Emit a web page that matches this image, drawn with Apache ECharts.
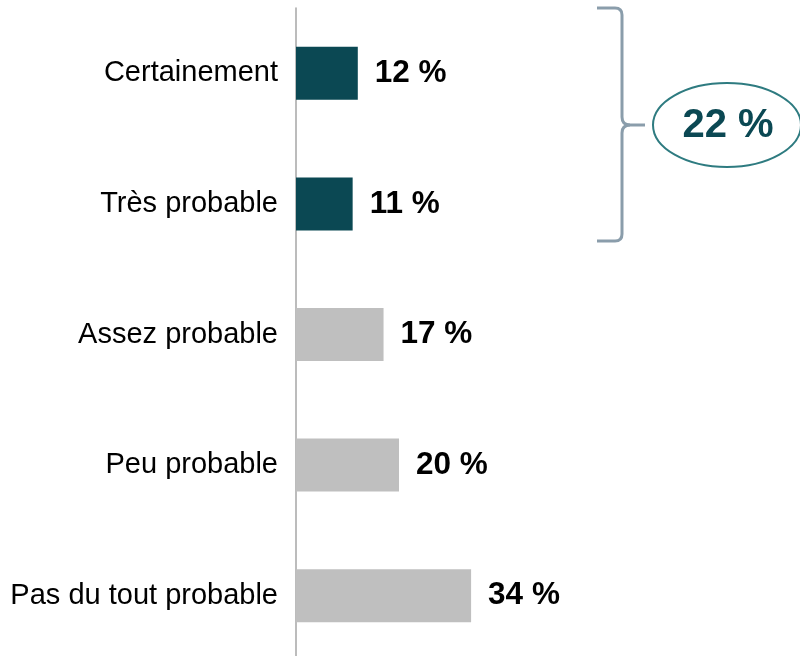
<html>
<head>
	<meta charset="utf-8">
	<script src="https://cdn.jsdelivr.net/npm/echarts@6/dist/echarts.min.js"></script>
	<style>
		body { margin: 0; background: #fff; }
		#main { width: 800px; height: 656px; }
	</style>
</head>
<body>
<div id="main"></div>
<script>
	var categories = ['Certainement', 'Très probable', 'Assez probable', 'Peu probable', 'Pas du tout probable'];
	var values = [12, 11, 17, 20, 34];
	var highlighted = [true, true, false, false, false];
	var topTwoLabel = '22 %';

	var teal = '#0b4853';
	var grey = '#bfbfbf';
	var braceColor = '#8a9dab';
	var font = 'Arial, "Liberation Sans", sans-serif';

	var barData = [];
	for (var i = 0; i < values.length; i++) {
		barData.push({
			value: values[i],
			itemStyle: { color: highlighted[i] ? teal : grey }
		});
	}

	// accolade : segments droits + coins arrondis
	var braceStyle = { stroke: braceColor, lineWidth: 3, fill: null };
	function seg(x1, y1, x2, y2) {
		return { type: 'line', shape: { x1: x1, y1: y1, x2: x2, y2: y2 }, style: braceStyle };
	}
	function corner(x1, y1, cx, cy, x2, y2) {
		return { type: 'bezierCurve', shape: { x1: x1, y1: y1, cpx1: cx, cpy1: cy, x2: x2, y2: y2 }, style: braceStyle };
	}
	var brace = [
		seg(597, 8, 615, 8),
		corner(615, 8, 622, 8, 622, 15),
		seg(622, 15, 622, 117),
		corner(622, 117, 622, 125, 630, 125),
		seg(630, 125, 645, 125),
		corner(630, 125, 622, 125, 622, 133),
		seg(622, 133, 622, 234),
		corner(622, 234, 622, 241, 615, 241),
		seg(615, 241, 597, 241)
	];

	var myChart = echarts.init(document.getElementById('main'));
	var option = {
		animation: false,
		grid: { left: 296, top: 8, width: 206, height: 653, outerBoundsMode: 'none' },
		xAxis: {
			type: 'value',
			min: 0,
			max: 40,
			show: false
		},
		yAxis: {
			type: 'category',
			inverse: true,
			data: categories,
			axisLine: { show: true, lineStyle: { color: '#a6a6a6', width: 1.5 } },
			axisTick: { show: false },
			axisLabel: { color: '#000', fontSize: 29, fontFamily: font, margin: 18, padding: [0, 0, 9, 0] }
		},
		series: [{
			type: 'bar',
			data: barData,
			barWidth: 53,
			label: {
				show: true,
				position: 'right',
				distance: 17,
				formatter: '{c} %',
				color: '#000',
				fontSize: 31.5,
				fontWeight: 'bold',
				fontFamily: font
			}
		}],
		graphic: brace.concat([
			{
				type: 'ellipse',
				shape: { cx: 727, cy: 125, rx: 74, ry: 42 },
				style: { fill: '#fff', stroke: '#2e7b80', lineWidth: 2 }
			},
			{
				type: 'text',
				x: 728,
				y: 126,
				style: {
					text: topTwoLabel,
					fill: teal,
					font: 'bold 40px ' + font,
					align: 'center',
					verticalAlign: 'middle'
				}
			}
		])
	};
	myChart.setOption(option);
</script>
</body>
</html>
